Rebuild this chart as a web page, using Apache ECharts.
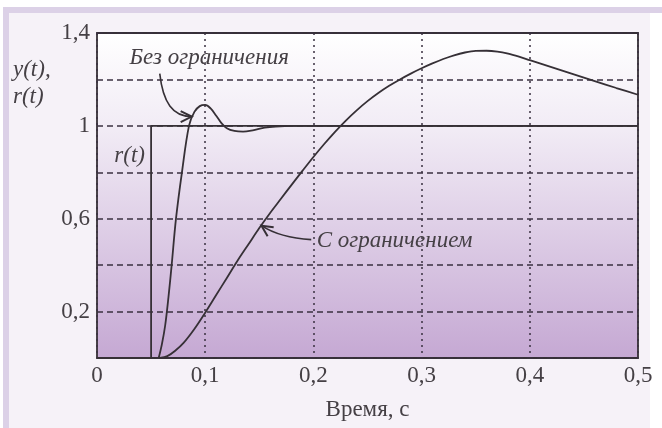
<!DOCTYPE html>
<html>
<head>
<meta charset="utf-8">
<script src="https://cdn.jsdelivr.net/npm/echarts@6/dist/echarts.min.js"></script>
<style>
html,body{margin:0;padding:0;background:#ffffff;}
#c{width:662px;height:428px;}
</style>
</head>
<body>
<div id="c"></div>
<script>
// ---- data ----
const xTicks = [0, 0.1, 0.2, 0.3, 0.4, 0.5];
const yLabelTicks = [0.2, 0.6, 1, 1.4];
const rSeries = [[0, 0], [0.05, 0], [0.05, 1], [0.5, 1]];
const noLimitT = [0.057, 0.060, 0.063, 0.066, 0.069, 0.073, 0.0785, 0.085, 0.090, 0.095, 0.100, 0.105, 0.110, 0.115, 0.120, 0.127, 0.135, 0.145, 0.155, 0.165, 0.180, 0.5];
const noLimitY = [0, 0.06, 0.14, 0.26, 0.40, 0.60, 0.80, 1.00, 1.06, 1.085, 1.09, 1.075, 1.045, 1.012, 0.99, 0.978, 0.975, 0.982, 0.992, 0.997, 1.0, 1.0];
const limitT = [0.058, 0.065, 0.072, 0.080, 0.090, 0.100, 0.110, 0.120, 0.130, 0.140, 0.150, 0.160, 0.170, 0.180, 0.190, 0.200, 0.210, 0.220, 0.230, 0.240, 0.250, 0.260, 0.270, 0.280, 0.290, 0.300, 0.310, 0.320, 0.330, 0.340, 0.350, 0.360, 0.370, 0.380, 0.390, 0.400, 0.420, 0.440, 0.460, 0.480, 0.500];
const limitY = [0, 0.008, 0.03, 0.065, 0.125, 0.195, 0.27, 0.345, 0.42, 0.49, 0.56, 0.625, 0.686, 0.747, 0.807, 0.866, 0.922, 0.9745, 1.023, 1.067, 1.1065, 1.1415, 1.1725, 1.2, 1.225, 1.248, 1.269, 1.288, 1.304, 1.316, 1.323, 1.3235, 1.32, 1.311, 1.298, 1.283, 1.253, 1.223, 1.193, 1.163, 1.134];
const labels = {
  noLimit: 'Без ограничения',
  limit: 'С ограничением',
  r: 'r(t)',
  yName1: 'y(t),',
  yName2: 'r(t)',
  xName: 'Время, с'
};

const zip = (a, b) => a.map((v, i) => [v, b[i]]);
const fmt = v => String(Math.round(v * 10) / 10).replace('.', ',');
const serif = '"Liberation Serif", "DejaVu Serif", serif';
const lineCol = '#363036';
const textCol = '#454045';

const chart = echarts.init(document.getElementById('c'), null, {renderer: 'canvas'});

const option = {
  backgroundColor: '#ffffff',
  animation: false,
  grid: {
    left: 97, right: 24, top: 33, bottom: 70,
    show: true,
    borderColor: lineCol, borderWidth: 1.8,
    backgroundColor: {
      type: 'linear', x: 0, y: 0, x2: 0, y2: 1,
      colorStops: [
        {offset: 0, color: '#ffffff'},
        {offset: 0.3, color: '#f1ebf5'},
        {offset: 1, color: '#c5a8d3'}
      ]
    }
  },
  xAxis: {
    type: 'value', min: 0, max: 0.5, interval: 0.1,
    axisLine: {show: false},
    axisTick: {show: false},
    axisLabel: {
      color: textCol, fontFamily: serif, fontSize: 23, margin: 6,
      formatter: v => xTicks.some(t => Math.abs(t - v) < 1e-6) ? fmt(v) : ''
    },
    splitLine: {show: true, lineStyle: {color: '#3a3040', type: [2, 4], width: 1.5}},
    name: labels.xName, nameLocation: 'middle', nameGap: 40,
    nameTextStyle: {color: textCol, fontFamily: serif, fontSize: 23}
  },
  yAxis: {
    type: 'value', min: 0, max: 1.4, interval: 0.2,
    axisLine: {show: false},
    axisTick: {show: false},
    axisLabel: {
      color: textCol, fontFamily: serif, fontSize: 23, margin: 7,
      formatter: v => yLabelTicks.some(t => Math.abs(t - v) < 1e-6) ? fmt(v) : ''
    },
    splitLine: {show: true, lineStyle: {color: '#3a3040', type: [6, 4], width: 1.5}}
  },
  series: [
    {
      type: 'line', data: rSeries, showSymbol: false, symbol: 'none',
      lineStyle: {color: lineCol, width: 1.8}, z: 5
    },
    {
      type: 'line', data: zip(noLimitT, noLimitY), smooth: 0.35, symbol: 'none',
      lineStyle: {color: lineCol, width: 1.8}, z: 6
    },
    {
      type: 'line', data: zip(limitT, limitY), smooth: 0.3, symbol: 'none',
      lineStyle: {color: lineCol, width: 1.8}, z: 6
    }
  ]
};
chart.setOption(option);

function px(x, y) { return chart.convertToPixel({gridIndex: 0}, [x, y]); }

function arrowHead(tip, from, size) {
  const dx = tip[0] - from[0], dy = tip[1] - from[1];
  const L = Math.hypot(dx, dy);
  const ux = dx / L, uy = dy / L;
  const bx = tip[0] - ux * size, by = tip[1] - uy * size;
  const w = size * 0.5;
  return [
    [bx - uy * w, by + ux * w],
    tip,
    [bx + uy * w, by - ux * w]
  ];
}

// annotation anchors in data coordinates
const a1Start = px(0.058, 1.225), a1C1 = px(0.061, 1.10), a1C2 = px(0.07, 1.04), a1Tip = px(0.0875, 1.04);
const a2Start = px(0.198, 0.51), a2C1 = px(0.18, 0.515), a2C2 = px(0.165, 0.53), a2Tip = px(0.152, 0.57);
const t1 = px(0.030, 1.293);
const t2 = px(0.203, 0.505);
const tr = px(0.016, 0.87);
const frameFill = '#f6f2f8', frameEdge = '#dcd1e7';

const graphic = [
  // outer frame
  {type: 'rect', z: -10, silent: true, shape: {x: 3, y: 7, width: 647, height: 421}, style: {fill: frameFill}},
  {type: 'rect', z: -9, silent: true, shape: {x: 3, y: 7, width: 659, height: 6}, style: {fill: frameEdge}},
  {type: 'rect', z: -9, silent: true, shape: {x: 3, y: 7, width: 6, height: 421}, style: {fill: frameEdge}},
  // arrows
  {type: 'bezierCurve', z: 100, silent: true,
    shape: {x1: a1Start[0], y1: a1Start[1], cpx1: a1C1[0], cpy1: a1C1[1], cpx2: a1C2[0], cpy2: a1C2[1], x2: a1Tip[0], y2: a1Tip[1]},
    style: {stroke: lineCol, lineWidth: 1.6, fill: null}},
  {type: 'polyline', z: 100, silent: true, shape: {points: arrowHead(a1Tip, a1C2, 11)}, style: {stroke: lineCol, lineWidth: 2, fill: null}},
  {type: 'bezierCurve', z: 100, silent: true,
    shape: {x1: a2Start[0], y1: a2Start[1], cpx1: a2C1[0], cpy1: a2C1[1], cpx2: a2C2[0], cpy2: a2C2[1], x2: a2Tip[0], y2: a2Tip[1]},
    style: {stroke: lineCol, lineWidth: 1.6, fill: null}},
  {type: 'polyline', z: 100, silent: true, shape: {points: arrowHead(a2Tip, a2C2, 11)}, style: {stroke: lineCol, lineWidth: 2, fill: null}},
  // texts
  {type: 'text', z: 100, silent: true, x: t1[0], y: t1[1],
    style: {text: labels.noLimit, font: 'italic 23px ' + serif, fill: textCol, textAlign: 'left', textVerticalAlign: 'middle'}},
  {type: 'text', z: 100, silent: true, x: t2[0], y: t2[1],
    style: {text: labels.limit, font: 'italic 23px ' + serif, fill: textCol, textAlign: 'left', textVerticalAlign: 'middle'}},
  {type: 'text', z: 100, silent: true, x: tr[0], y: tr[1],
    style: {text: labels.r, font: 'italic 23px ' + serif, fill: textCol, textAlign: 'left', textVerticalAlign: 'middle'}},
  {type: 'text', z: 100, silent: true, x: 13, y: 70,
    style: {text: labels.yName1, font: 'italic 23px ' + serif, fill: textCol, textAlign: 'left', textVerticalAlign: 'middle'}},
  {type: 'text', z: 100, silent: true, x: 13, y: 97,
    style: {text: labels.yName2, font: 'italic 23px ' + serif, fill: textCol, textAlign: 'left', textVerticalAlign: 'middle'}}
];
chart.setOption({graphic: graphic});
</script>
</body>
</html>
